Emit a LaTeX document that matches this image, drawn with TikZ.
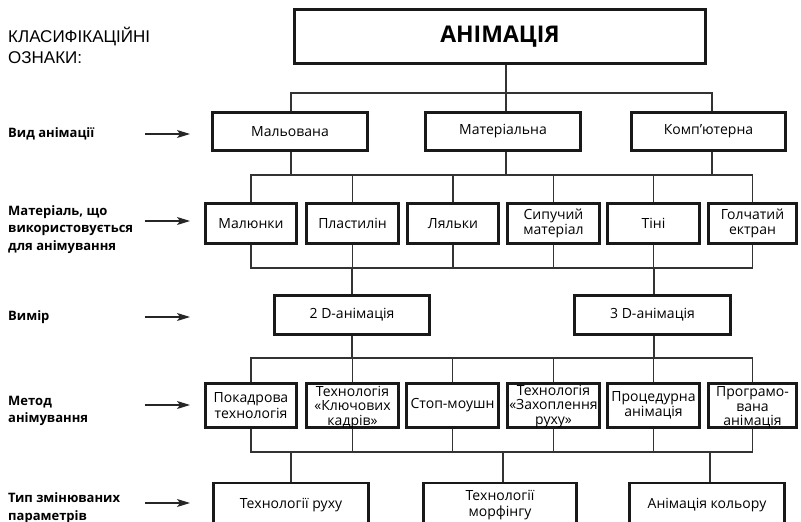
\documentclass[tikz,border=0pt]{standalone}
\usepackage{fontspec}
\setmainfont{Open Sans}
\newfontfamily\headfont{Liberation Sans}
\usetikzlibrary{arrows.meta,backgrounds}

\begin{document}
\begin{tikzpicture}[x=1pt,y=-1pt,
  box/.style={draw=black!90, line width=2.8pt, inner sep=0pt, align=center,
    fill=white, font=\fontsize{14}{15.5}\selectfont},
  boxtext/.style={inner sep=0pt, align=center, font=\fontsize{14}{14.5}\selectfont},
  wire/.style={draw=black!80, line width=1.3pt},
  lbl/.style={anchor=west, inner sep=0pt, align=left,
    font=\bfseries\fontsize{13}{17.5}\selectfont},
  pointer/.style={draw=black!85, line width=1.2pt, -{Stealth[length=13pt,width=8pt,inset=3pt]}}
]
\useasboundingbox (0,0) rectangle (801,522);
\clip (0,0) rectangle (801,522);

% ---- left column: classification features ----
\node[anchor=west, inner sep=0pt, align=left,
  font=\headfont\fontsize{17}{21}\selectfont] (head) at (8,45)
  {КЛАСИФІКАЦІЙНІ\\ОЗНАКИ:};
\node[lbl] (f1) at (8,134) {Вид анімації};
\node[lbl] (f2) at (8,229.5) {Матеріаль, що\\використовується\\для анімування};
\node[lbl] (f3) at (8,317) {Вимір};
\node[lbl] (f4) at (8,411) {Метод\\анімування};
\node[lbl] (f5) at (8,508) {Тип змінюваних\\параметрів};

\foreach \i/\y in {1/134,2/221,3/317,4/405,5/503}{
  \coordinate (p\i) at (145,\y);
  \coordinate (q\i) at (190,\y);
  \draw[pointer] (p\i) -- (q\i);
}

% ---- boxes ----
\node[box, minimum width=411, minimum height=54,
  font=\bfseries\fontsize{23}{26}\selectfont] (title) at (500,36.5) {АНІМАЦІЯ};

\node[box, minimum width=155, minimum height=38] (m1) at (290,131.5) {Мальована};
\node[box, minimum width=155, minimum height=38] (m2) at (503,131.5) {Матеріальна};
\node[box, minimum width=154, minimum height=38] (m3) at (708.5,131.5) {Комп’ютерна};

\node[box, minimum width=91, minimum height=40] (l1) at (251,223.5) {Малюнки};
\node[box, minimum width=92, minimum height=40] (l2) at (352.5,223.5) {Пластилін};
\node[box, minimum width=91, minimum height=40] (l3) at (453,223.5) {Ляльки};
\node[box, minimum width=92, minimum height=40] (l4) at (553.5,223.5) {Сипучий\\матеріал};
\node[box, minimum width=92, minimum height=40] (l5) at (653.5,223.5) {Тіні};
\node[box, minimum width=88, minimum height=40] (l6) at (752.5,223.5) {Голчатий\\ектран};

\node[box, minimum width=155, minimum height=39] (d2) at (352,315) {2 D-анімація};
\node[box, minimum width=156, minimum height=39] (d3) at (652.5,315) {3 D-анімація};

\node[box, minimum width=91, minimum height=44] (k1) at (251,405.5) {Покадрова\\технологія};
\node[box, minimum width=92, minimum height=44] (k2) at (352.5,405.5) {};
\node[boxtext] (k2t) at (352.5,407.5) {Технологія\\«Ключових\\кадрів»};
\node[box, minimum width=92, minimum height=44] (k3) at (452.5,405.5) {Стоп-моушн};
\node[box, minimum width=92, minimum height=44] (k4) at (553.5,405.5) {};
\node[boxtext] (k4t) at (553.5,406.5) {Технологія\\«Захоплення\\руху»};
\node[box, minimum width=92, minimum height=44] (k5) at (653.5,405.5) {Процедурна\\анімація};
\node[box, minimum width=88, minimum height=44] (k6) at (752.5,405.5) {};
\node[boxtext] (k6t) at (752.5,407.5) {Програмо-\\вана\\анімація};

\node[box, minimum width=155, minimum height=44] (r1) at (291,505) {Технології руху};
\node[box, minimum width=153, minimum height=44] (r2) at (500,505) {Технології\\морфінгу};
\node[box, minimum width=155, minimum height=44] (r3) at (707,505) {Анімація кольору};

% ---- bus lines ----
\coordinate (bus1) at (0,93);
\coordinate (bus2) at (0,175);
\coordinate (bus3) at (0,268);
\coordinate (bus4) at (0,358);
\coordinate (bus5) at (0,452);

% ---- connectors ----
\begin{scope}[on background layer]
\draw[wire] ([xshift=6]title.south) -- ([xshift=3]m2.north);
\draw[wire] ([xshift=1]m1.north) -- ++(0,-18) -| ([xshift=3.5]m3.north);

\draw[wire] (l1.north) -- ++(0,-27) -| (l6.north);
\foreach \n in {l2,l3,l4,l5}{ \draw[wire] (\n.north) -- (\n.north |- bus2); }
\draw[wire] ([xshift=1]m1.south) -- ++(0,23);
\draw[wire] ([xshift=3]m2.south) -- ++(0,23);
\draw[wire] ([xshift=3.5]m3.south) -- ++(0,23);

\draw[wire] (l1.south) -- ++(0,23) -| (l6.south);
\foreach \n in {l2,l3,l4,l5}{ \draw[wire] (\n.south) -- (\n.south |- bus3); }
\draw[wire] (d2.north) -- (d2.north |- bus3);
\draw[wire] ([xshift=1.5]d3.north) -- ++(0,-26);

\draw[wire] (k1.north) -- ++(0,-24) -| (k6.north);
\foreach \n in {k2,k3,k4,k5}{ \draw[wire] (\n.north) -- (\n.north |- bus4); }
\draw[wire] (d2.south) -- (d2.south |- bus4);
\draw[wire] ([xshift=1.5]d3.south) -- ++(0,22);

\draw[wire] (k1.south) -- ++(0,23) -| (k6.south);
\foreach \n in {k2,k3,k4,k5}{ \draw[wire] (\n.south) -- (\n.south |- bus5); }
\draw[wire] (r1.north) -- (r1.north |- bus5);
\draw[wire] ([xshift=3]r2.north) -- ++(0,-29.5);
\draw[wire] ([xshift=3]r3.north) -- ++(0,-29.5);
\end{scope}

\end{tikzpicture}
\end{document}
